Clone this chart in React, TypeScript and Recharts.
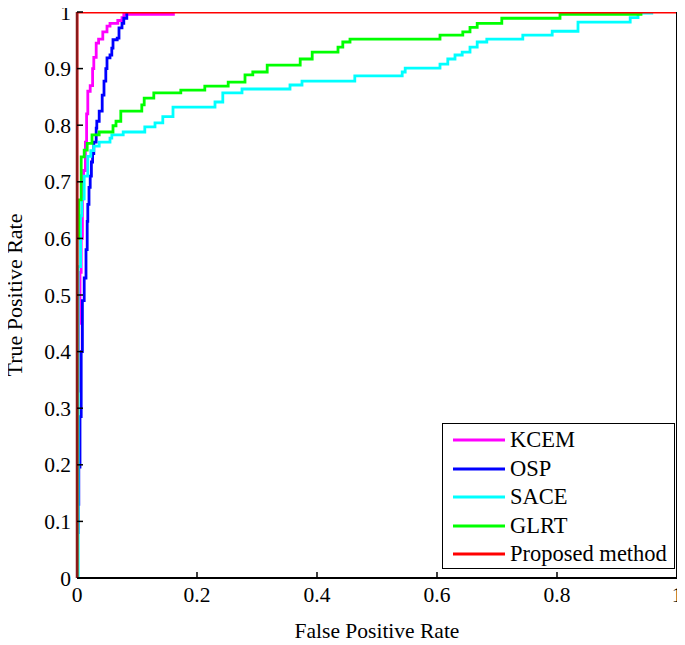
import React from 'react';
import { LineChart, Line, XAxis, YAxis, Legend } from 'recharts';

const FONT = 'Liberation Serif, Times New Roman, Tinos, DejaVu Serif, serif';

const xTicks = [0, 0.2, 0.4, 0.6, 0.8, 1];
const yTicks = [0, 0.1, 0.2, 0.3, 0.4, 0.5, 0.6, 0.7, 0.8, 0.9, 1];

// KCEM
const kcemFpr = [0, 0, 0.003, 0.005, 0.007, 0.009, 0.011, 0.014, 0.016, 0.018, 0.022, 0.026, 0.028, 0.032, 0.036, 0.043, 0.05, 0.055, 0.068, 0.075, 0.078, 0.163];
const kcemTpr = [0, 0.33, 0.45, 0.54, 0.6, 0.67, 0.72, 0.77, 0.82, 0.86, 0.87, 0.9, 0.92, 0.945, 0.952, 0.965, 0.975, 0.98, 0.985, 0.99, 0.996, 0.996];

// OSP
const ospFpr = [0, 0, 0.002, 0.003, 0.005, 0.007, 0.009, 0.012, 0.015, 0.017, 0.018, 0.02, 0.022, 0.024, 0.026, 0.028, 0.032, 0.033, 0.037, 0.042, 0.045, 0.048, 0.05, 0.055, 0.058, 0.06, 0.067, 0.07, 0.075, 0.078, 0.083];
const ospTpr = [0, 0.08, 0.13, 0.196, 0.285, 0.4, 0.49, 0.53, 0.58, 0.63, 0.66, 0.69, 0.71, 0.735, 0.75, 0.77, 0.795, 0.807, 0.825, 0.853, 0.878, 0.9, 0.919, 0.924, 0.936, 0.951, 0.954, 0.972, 0.98, 0.989, 1];

// SACE
const saceFpr = [0, 0.002, 0.006, 0.008, 0.012, 0.018, 0.023, 0.028, 0.037, 0.055, 0.058, 0.077, 0.113, 0.13, 0.143, 0.16, 0.23, 0.243, 0.275, 0.355, 0.375, 0.463, 0.542, 0.547, 0.605, 0.618, 0.63, 0.642, 0.655, 0.667, 0.683, 0.743, 0.792, 0.835, 0.922, 0.935, 0.958];
const saceTpr = [0, 0.55, 0.64, 0.67, 0.71, 0.745, 0.755, 0.763, 0.77, 0.777, 0.783, 0.788, 0.797, 0.804, 0.815, 0.832, 0.841, 0.857, 0.864, 0.871, 0.878, 0.887, 0.894, 0.901, 0.908, 0.917, 0.924, 0.929, 0.938, 0.947, 0.952, 0.959, 0.966, 0.982, 0.99, 0.998, 1];

// GLRT
const glrtFpr = [0, 0, 0.003, 0.007, 0.012, 0.017, 0.025, 0.037, 0.06, 0.065, 0.073, 0.108, 0.112, 0.128, 0.173, 0.213, 0.252, 0.28, 0.293, 0.317, 0.372, 0.392, 0.435, 0.443, 0.455, 0.605, 0.643, 0.655, 0.667, 0.708, 0.805, 0.94];
const glrtTpr = [0, 0.6, 0.668, 0.744, 0.756, 0.768, 0.783, 0.788, 0.799, 0.807, 0.825, 0.836, 0.848, 0.857, 0.862, 0.869, 0.876, 0.889, 0.894, 0.906, 0.917, 0.929, 0.938, 0.947, 0.952, 0.959, 0.965, 0.973, 0.98, 0.989, 0.996, 1];

// Proposed method
const propFpr = [0, 0, 1];
const propTpr = [0, 1, 1];

const toPoints = (xs: number[], ys: number[]) => xs.map((x, i) => ({ x, y: ys[i] }));

const series = [
  { name: 'KCEM', color: '#ff00ff', data: toPoints(kcemFpr, kcemTpr) },
  { name: 'OSP', color: '#0000ff', data: toPoints(ospFpr, ospTpr) },
  { name: 'SACE', color: '#00ffff', data: toPoints(saceFpr, saceTpr) },
  { name: 'GLRT', color: '#00ff00', data: toPoints(glrtFpr, glrtTpr) },
  { name: 'Proposed method', color: '#ff0000', data: toPoints(propFpr, propTpr) },
];

const tickStyle = { fill: '#000', fontSize: 21.5, fontFamily: FONT };

const LegendBox = () => (
  <div
    style={{
      width: 233,
      height: 146,
      boxSizing: 'border-box',
      border: '1.5px solid #000',
      background: '#fff',
      paddingTop: 2,
      fontFamily: FONT,
      fontSize: 22.5,
      color: '#000',
    }}
  >
    {series.map((s) => (
      <div key={s.name} style={{ height: 28.5, display: 'flex', alignItems: 'center' }}>
        <svg width={67} height={10} style={{ display: 'block' }}>
          <line x1={10} x2={62} y1={5} y2={5} stroke={s.color} strokeWidth={2.8} />
        </svg>
        <span style={{ lineHeight: '28px', whiteSpace: 'nowrap' }}>{s.name}</span>
      </div>
    ))}
  </div>
);

const YTitle = () => (
  <text
    x={22}
    y={295}
    transform="rotate(-90, 22, 295)"
    textAnchor="middle"
    fontFamily={FONT}
    fontSize={22}
    fill="#000"
  >
    True Positive Rate
  </text>
);

export default function App() {
  return (
    <div style={{ width: 685, height: 645, marginLeft: -8, marginTop: -8, fontFamily: FONT }}>
      <LineChart width={685} height={645} margin={{ top: 11, right: 7, bottom: 0, left: 0 }}>
        <XAxis
          xAxisId="b"
          type="number"
          dataKey="x"
          domain={[0, 1]}
          allowDataOverflow
          ticks={xTicks}
          height={67}
          tickSize={-6}
          tickMargin={15}
          tick={tickStyle}
          axisLine={{ stroke: '#000', strokeWidth: 2 }}
          tickLine={{ stroke: '#000', strokeWidth: 1.5 }}
          label={{ value: 'False Positive Rate', position: 'insideBottom', offset: 7, fill: '#000', fontSize: 21.5, fontFamily: FONT }}
        />
        <XAxis
          xAxisId="t"
          orientation="top"
          type="number"
          dataKey="x"
          domain={[0, 1]}
          allowDataOverflow
          ticks={xTicks}
          height={1}
          tickSize={-6}
          tick={false}
          axisLine={false}
          tickLine={{ stroke: '#000', strokeWidth: 1.5 }}
        />
        <YAxis
          yAxisId="l"
          type="number"
          domain={[0, 1]}
          allowDataOverflow
          ticks={yTicks}
          width={77}
          tickSize={-6}
          tickMargin={12}
          tick={tickStyle}
          axisLine={{ stroke: '#8b1a1a', strokeWidth: 2.5 }}
          tickLine={{ stroke: '#000', strokeWidth: 1.5 }}
          label={{ content: () => <YTitle /> }}
        />
        <YAxis
          yAxisId="r"
          orientation="right"
          type="number"
          domain={[0, 1]}
          allowDataOverflow
          ticks={yTicks}
          width={1}
          tickSize={-6}
          tick={false}
          axisLine={{ stroke: '#000', strokeWidth: 2 }}
          tickLine={{ stroke: '#000', strokeWidth: 1.5 }}
        />
        {series.map((s) => (
          <Line
            key={s.name}
            xAxisId="b"
            yAxisId="l"
            data={s.data}
            dataKey="y"
            name={s.name}
            type="stepAfter"
            stroke={s.color}
            strokeWidth={2.8}
            dot={false}
            activeDot={false}
            isAnimationActive={false}
          />
        ))}
        <Legend
          layout="horizontal"
          verticalAlign="middle"
          align="center"
          content={<LegendBox />}
          wrapperStyle={{ left: 442, top: 423, width: 233, height: 146 }}
        />
      </LineChart>
    </div>
  );
}
